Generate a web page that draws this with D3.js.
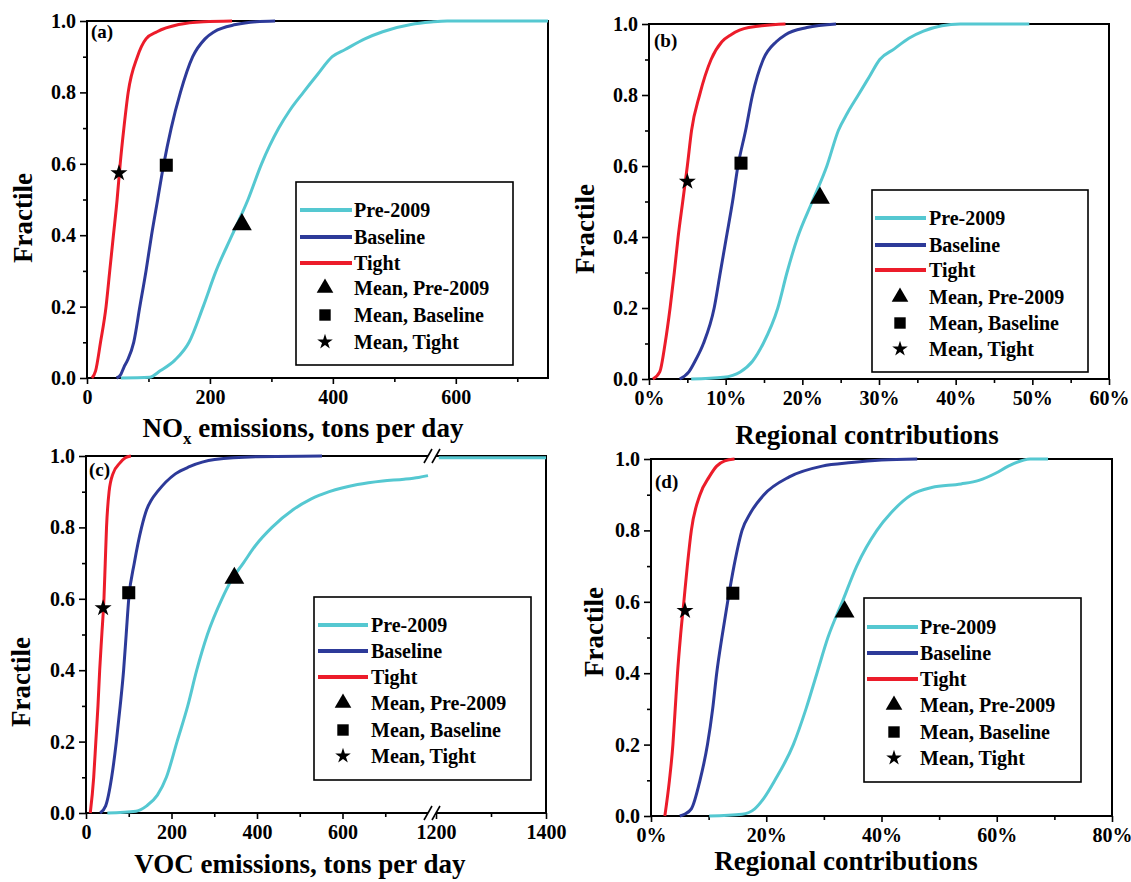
<!DOCTYPE html>
<html><head><meta charset="utf-8">
<script src="https://cdn.jsdelivr.net/npm/d3@7"></script>
<style>
body{margin:0;background:#fff}
svg text{font-family:"Liberation Serif","Times New Roman",serif;font-weight:bold;fill:#000}
</style>
</head><body>
<svg id="chart" width="1131" height="882"></svg>
<script>
// ---------------- DATA ----------------
const fractileTicks = [0, 0.2, 0.4, 0.6, 0.8, 1.0];
const fractileMinor = [0.1, 0.3, 0.5, 0.7, 0.9];
const legendLabels = ["Pre-2009", "Baseline", "Tight", "Mean, Pre-2009", "Mean, Baseline", "Mean, Tight"];
const panelLabels = ["(a)", "(b)", "(c)", "(d)"];
const xTitles = ["emissions, tons per day", "Regional contributions", "VOC emissions, tons per day", "Regional contributions"];

// Panel (a): NOx emissions, tons per day  [x, fractile]
const aTicks = [0, 200, 400, 600];
const aMinor = [100, 300, 500, 700];
const aPre = [[55,0],[102,0.002],[119,0.02],[143,0.05],[166,0.1],[189,0.2],[210,0.3],[236,0.4],[262,0.5],[284,0.6],[297,0.65],[312,0.7],[330,0.75],[352,0.8],[375,0.85],[399,0.9],[420,0.92],[452,0.95],[481,0.97],[527,0.99],[560,0.997],[586,1.0],[750,1.0]];
const aBase = [[48,0],[55,0.01],[60,0.03],[66,0.05],[76,0.1],[86,0.2],[96,0.3],[105,0.4],[115,0.5],[125,0.6],[137,0.7],[152,0.8],[172,0.9],[192,0.95],[207,0.97],[242,0.99],[275,0.998],[306,1.0]];
const aTight = [[8,0],[14,0.02],[22,0.1],[31,0.2],[37,0.3],[43,0.4],[49,0.5],[54,0.6],[60,0.7],[67,0.8],[82,0.9],[96,0.95],[114,0.97],[149,0.99],[190,0.998],[236,1.0]];
const aMeans = [[252,0.43],[129,0.596],[52,0.574]];

// Panel (b): regional contributions (%)
const bTicks = [0, 10, 20, 30, 40, 50, 60];
const bMinor = [5, 15, 25, 35, 45, 55];
const bPre = [[5.5,0],[9.7,0.005],[11.9,0.02],[13.5,0.05],[14.9,0.1],[16.8,0.2],[18.0,0.3],[19.4,0.4],[21.3,0.5],[23.2,0.6],[24.7,0.7],[25.9,0.75],[27.3,0.8],[28.7,0.85],[30.1,0.9],[32,0.93],[33.9,0.96],[35.8,0.98],[38.2,0.995],[40.6,1.0],[49.6,1.0]];
const bBase = [[4,0],[5.2,0.02],[6.0,0.05],[7.1,0.1],[8.5,0.2],[9.3,0.3],[10.1,0.4],[10.9,0.5],[11.6,0.6],[12.6,0.7],[13.5,0.8],[14.9,0.9],[16.6,0.95],[17.8,0.97],[20.6,0.99],[24.4,1.0]];
const bTight = [[0.5,0],[1.4,0.02],[2.1,0.1],[2.75,0.2],[3.3,0.3],[3.8,0.4],[4.4,0.5],[5.0,0.6],[5.55,0.7],[6.6,0.8],[8.1,0.9],[9.5,0.95],[10.7,0.97],[13,0.99],[17.8,1.0]];
const bMeans = [[22.3,0.51],[12.0,0.608],[5.0,0.556]];

// Panel (c): VOC emissions, tons per day (broken axis 800 // 1200)
const cTicks = [0, 200, 400, 600, 1200, 1400];
const cMinor = [100, 300, 500, 700, 1300];
const cPre = [[50,0],[117,0.005],[142,0.02],[167,0.05],[188,0.1],[213,0.2],[238,0.3],[259,0.4],[284,0.5],[318,0.6],[339,0.65],[368,0.7],[397,0.75],[435,0.8],[485,0.85],[527,0.88],[569,0.9],[635,0.92],[694,0.93],[744,0.935],[778,0.94],[800,0.945]];
const cPreTail = [[1205,0.995],[1400,0.995]];
const cBase = [[33,0],[46,0.02],[60,0.1],[71,0.2],[80,0.3],[88,0.4],[94,0.5],[100,0.6],[113,0.7],[130,0.8],[142,0.85],[153,0.877],[167,0.9],[209,0.95],[242,0.97],[301,0.99],[400,0.998],[552,1.0]];
const cTight = [[10,0],[18,0.1],[23,0.2],[28,0.3],[32,0.4],[37,0.5],[42,0.6],[45,0.7],[48,0.8],[54,0.9],[63,0.95],[79,0.98],[92,0.995],[105,1.0]];
const cMeans = [[347,0.658],[100,0.617],[40,0.574]];

// Panel (d): regional contributions (%)
const dTicks = [0, 20, 40, 60, 80];
const dMinor = [10, 30, 50, 70];
const dPre = [[10.1,0],[15.8,0.005],[18.0,0.02],[19.6,0.05],[21.5,0.1],[24.7,0.2],[26.9,0.3],[28.8,0.4],[30.7,0.5],[33.2,0.6],[35.7,0.7],[39.2,0.8],[41.7,0.85],[45.2,0.9],[48.7,0.92],[53.8,0.93],[56.9,0.94],[59.8,0.96],[62.0,0.98],[65.8,1.0],[68.9,1.0]];
const dBase = [[5.0,0],[5.8,0.005],[7.0,0.02],[8.5,0.1],[9.8,0.2],[10.7,0.3],[11.4,0.4],[12.3,0.5],[13.3,0.6],[14.4,0.7],[15.8,0.8],[17.3,0.85],[19.6,0.9],[24.0,0.95],[29.7,0.98],[34.8,0.99],[40,0.997],[46.2,1.0]];
const dTight = [[2.4,0],[3.2,0.1],[3.8,0.2],[4.2,0.3],[4.6,0.4],[5.1,0.5],[5.7,0.6],[6.3,0.7],[7.0,0.8],[8.5,0.9],[10.1,0.95],[11.4,0.98],[12.8,0.995],[14.5,1.0]];
const dMeans = [[33.6,0.572],[14.2,0.624],[5.9,0.575]];

// ---------------- DRAW ----------------
const colors = ["#55c8d1", "#2d3a99", "#ec1c2a"];
const symbols = [d3.symbolTriangle, d3.symbolSquare, d3.symbolStar];
const symSize = [170, 170, 90];
const legSymSize = [120, 130, 75];
const svg = d3.select("#chart");
const pct = d => d + "%";

const panels = [
  {left:87, right:548, top:21, bottom:378, domain:[0,750], range:[87,548], ticks:aTicks, minor:aMinor, fmt:d=>d,
   series:[aPre,aBase,aTight], means:aMeans, label:[91,38], ylab:[23,218], xlab:[303,437], nox:true,
   legend:{x0:296,x1:513,y0:182,y1:365,lx0:300,lx1:352,mx:325,tx:354,rows:[210,237,263,288,315,342]}},
  {left:649, right:1109, top:24, bottom:379, domain:[0,60], range:[649,1109], ticks:bTicks, minor:bMinor, fmt:pct,
   series:[bPre,bBase,bTight], means:bMeans, label:[654,47], ylab:[585,229], xlab:[867,444],
   legend:{x0:872,x1:1088,y0:190,y1:372,lx0:875,lx1:926,mx:900,tx:929,rows:[218,245,270,297,323,349]}},
  {left:86, right:546, top:456, bottom:813, domain:[0,800,1200,1400], range:[86,428,436,546], ticks:cTicks, minor:cMinor, fmt:d=>d,
   series:[cPre,cBase,cTight], tail:cPreTail, means:cMeans, label:[89,476], ylab:[21,682], xlab:[300,873], brk:432,
   legend:{x0:314,x1:531,y0:597,y1:780,lx0:318,lx1:368,mx:343,tx:371,rows:[625,651,677,703,730,756]}},
  {left:651, right:1112, top:459, bottom:816, domain:[0,80], range:[651,1112], ticks:dTicks, minor:dMinor, fmt:pct,
   series:[dPre,dBase,dTight], means:dMeans, label:[655,488], ylab:[594,632], xlab:[846,870],
   legend:{x0:864,x1:1081,y0:598,y1:782,lx0:867,lx1:918,mx:894,tx:920,rows:[627,653,679,705,732,758]}}
];

panels.forEach((p, i) => {
  const x = d3.scaleLinear().domain(p.domain).range(p.range);
  const y = d3.scaleLinear().domain([0, 1]).range([p.bottom, p.top]);
  const g = svg.append("g");

  const ya = g.append("g").attr("transform", `translate(${p.left},0)`)
    .call(d3.axisLeft(y).tickValues(fractileTicks).tickFormat(d3.format(".1f")).tickSize(7).tickPadding(4));
  const ym = g.append("g").attr("transform", `translate(${p.left},0)`)
    .call(d3.axisLeft(y).tickValues(fractileMinor).tickFormat("").tickSize(4));
  const xa = g.append("g").attr("transform", `translate(0,${p.bottom})`)
    .call(d3.axisBottom(x).tickValues(p.ticks).tickFormat(p.fmt).tickSize(6).tickPadding(6));
  const xm = g.append("g").attr("transform", `translate(0,${p.bottom})`)
    .call(d3.axisBottom(x).tickValues(p.minor).tickFormat("").tickSize(4));
  [ya, ym, xa, xm].forEach(a => {
    a.attr("font-family", null).attr("font-size", null);
    a.select(".domain").remove();
    a.selectAll("line").attr("stroke", "#000").attr("stroke-width", 1.6);
    a.selectAll("text").style("font-size", "20px");
  });

  g.append("rect").attr("x", p.left).attr("y", p.top)
    .attr("width", p.right - p.left).attr("height", p.bottom - p.top)
    .attr("fill", "none").attr("stroke", "#000").attr("stroke-width", 2);

  const line = d3.line().x(d => x(d[0])).y(d => y(d[1])).curve(d3.curveMonotoneX);
  p.series.forEach((s, k) => {
    g.append("path").attr("d", line(s)).attr("fill", "none")
      .attr("stroke", colors[k]).attr("stroke-width", 3).attr("stroke-linejoin", "round");
  });
  if (p.tail) {
    g.append("path").attr("d", line(p.tail)).attr("fill", "none")
      .attr("stroke", colors[0]).attr("stroke-width", 3);
  }

  if (p.brk) {
    [p.top, p.bottom].forEach(yy => {
      g.append("rect").attr("x", p.brk - 4).attr("y", yy - 3).attr("width", 8).attr("height", 6).attr("fill", "#fff");
      [-4, 4].forEach(dx => {
        g.append("line").attr("x1", p.brk + dx - 4).attr("y1", yy + 7)
          .attr("x2", p.brk + dx + 4).attr("y2", yy - 7)
          .attr("stroke", "#000").attr("stroke-width", 1.6);
      });
    });
  }

  p.means.forEach((m, k) => {
    g.append("path").attr("d", d3.symbol().type(symbols[k]).size(symSize[k])())
      .attr("transform", `translate(${x(m[0])},${y(m[1])})`).attr("fill", "#000");
  });

  const L = p.legend;
  g.append("rect").attr("x", L.x0).attr("y", L.y0).attr("width", L.x1 - L.x0).attr("height", L.y1 - L.y0)
    .attr("fill", "#fff").attr("stroke", "#000").attr("stroke-width", 1.6);
  legendLabels.forEach((lab, k) => {
    const ry = L.rows[k];
    if (k < 3) {
      g.append("line").attr("x1", L.lx0).attr("x2", L.lx1).attr("y1", ry).attr("y2", ry)
        .attr("stroke", colors[k]).attr("stroke-width", 4);
    } else {
      g.append("path").attr("d", d3.symbol().type(symbols[k - 3]).size(legSymSize[k - 3])())
        .attr("transform", `translate(${L.mx},${ry})`).attr("fill", "#000");
    }
    g.append("text").attr("x", L.tx).attr("y", ry).attr("dy", "0.35em")
      .style("font-size", "20px").text(lab);
  });

  g.append("text").attr("x", p.label[0]).attr("y", p.label[1]).style("font-size", "19px").text(panelLabels[i]);

  g.append("text").attr("transform", `translate(${p.ylab[0]},${p.ylab[1]}) rotate(-90)`)
    .attr("text-anchor", "middle").attr("dy", "0.35em").style("font-size", "27px").text("Fractile");

  const xt = g.append("text").attr("x", p.xlab[0]).attr("y", p.xlab[1]).attr("text-anchor", "middle")
    .style("font-size", "27px");
  if (p.nox) {
    xt.append("tspan").text("NO");
    xt.append("tspan").attr("dy", 7).style("font-size", "17px").text("x");
    xt.append("tspan").attr("dy", -7).text(" " + xTitles[i]);
  } else {
    xt.text(xTitles[i]);
  }
});
</script>
</body></html>
